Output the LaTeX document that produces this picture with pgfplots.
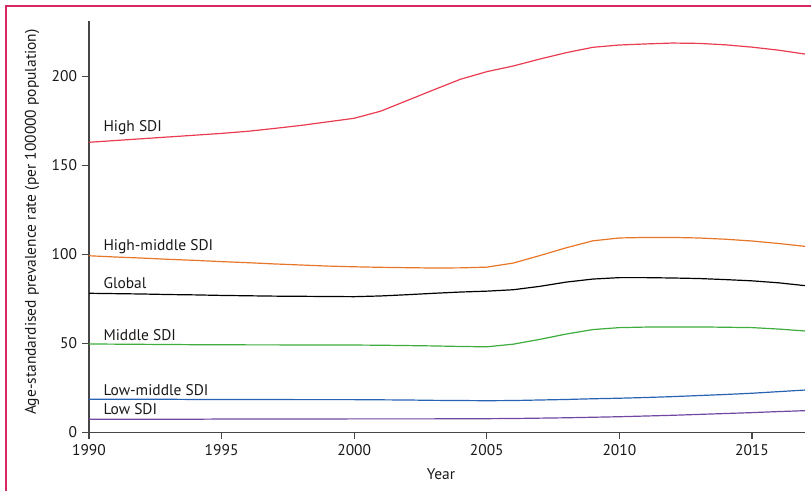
\documentclass[border=0pt]{standalone}
\usepackage{pgfplots}
\pgfplotsset{compat=1.18}
\usepackage{fontspec}
\setmainfont{PT Sans}
\definecolor{frame}{RGB}{214,40,98}
\definecolor{cHigh}{RGB}{233,60,80}
\definecolor{cHM}{RGB}{232,118,40}
\definecolor{cMid}{RGB}{62,172,62}
\definecolor{cLM}{RGB}{40,98,178}
\definecolor{cLow}{RGB}{112,72,162}
\definecolor{axgray}{RGB}{70,70,70}
\begin{document}
\begin{tikzpicture}
\useasboundingbox (-66.75pt,-44.1pt) rectangle (541.5pt,324.15pt);
\draw[frame, line width=1pt] (-62.25pt,-50pt) -- (-62.25pt,319.65pt) -- (545pt,319.65pt);
\begin{axis}[
  at={(0pt,0pt)}, anchor=origin,
  scale only axis, width=537pt, height=308.4pt,
  xmin=1990, xmax=2017, ymin=0, ymax=231.2,
  axis x line*=bottom, axis y line*=left,
  axis line style={axgray, line width=0.9pt, -},
  xtick={1990,1995,2000,2005,2010,2015},
  ytick={0,50,100,150,200},
  tick align=outside, major tick length=5pt,
  tick style={axgray, line width=0.9pt},
  /pgf/number format/assume math mode=true,
  /pgf/number format/1000 sep={},
  ticklabel style={font=\fontsize{11.6}{13}\selectfont, text=black!90},
  xticklabel style={yshift=-0.5pt},
  yticklabel style={xshift=-0.5pt},
  clip=false,
  every axis plot/.append style={line width=0.9pt},
]
\addplot[cHigh] coordinates {(1990,163.0)(1991,164.0)(1992,165.0)(1993,166.0)(1994,167.0)(1995,168.0)(1996,169.2)(1997,170.8)(1998,172.5)(1999,174.5)(2000,176.5)(2001,180.5)(2002,186.5)(2003,192.5)(2004,198.4)(2005,202.7)(2006,205.9)(2007,209.8)(2008,213.4)(2009,216.4)(2010,217.7)(2011,218.3)(2012,218.8)(2013,218.6)(2014,217.8)(2015,216.5)(2016,214.8)(2017,212.6)};
\addplot[cHM] coordinates {(1990,99.2)(1991,98.5)(1992,97.9)(1993,97.2)(1994,96.6)(1995,95.9)(1996,95.3)(1997,94.6)(1998,94.0)(1999,93.4)(2000,93.0)(2001,92.7)(2002,92.5)(2003,92.3)(2004,92.4)(2005,92.8)(2006,95.1)(2007,99.3)(2008,103.7)(2009,107.6)(2010,109.2)(2011,109.5)(2012,109.5)(2013,109.2)(2014,108.5)(2015,107.5)(2016,106.1)(2017,104.5)};
\addplot[black] coordinates {(1990,78.1)(1991,77.9)(1992,77.7)(1993,77.4)(1994,77.2)(1995,76.9)(1996,76.7)(1997,76.5)(1998,76.4)(1999,76.3)(2000,76.2)(2001,76.6)(2002,77.3)(2003,78.1)(2004,78.8)(2005,79.3)(2006,80.1)(2007,82.0)(2008,84.4)(2009,86.1)(2010,86.9)(2011,86.9)(2012,86.7)(2013,86.4)(2014,85.8)(2015,85.1)(2016,84.0)(2017,82.4)};
\addplot[cMid] coordinates {(1990,49.6)(1991,49.5)(1992,49.4)(1993,49.3)(1994,49.2)(1995,49.2)(1996,49.1)(1997,49.1)(1998,49.0)(1999,49.0)(2000,49.0)(2001,48.9)(2002,48.7)(2003,48.5)(2004,48.2)(2005,48.0)(2006,49.5)(2007,52.2)(2008,55.2)(2009,57.7)(2010,58.8)(2011,59.1)(2012,59.2)(2013,59.2)(2014,59.0)(2015,58.8)(2016,58.0)(2017,56.9)};
\addplot[cLM] coordinates {(1990,18.5)(1991,18.5)(1992,18.5)(1993,18.5)(1994,18.4)(1995,18.4)(1996,18.4)(1997,18.4)(1998,18.3)(1999,18.3)(2000,18.3)(2001,18.2)(2002,18.1)(2003,17.9)(2004,17.8)(2005,17.7)(2006,17.8)(2007,18.1)(2008,18.4)(2009,18.8)(2010,19.1)(2011,19.5)(2012,20.0)(2013,20.6)(2014,21.2)(2015,21.9)(2016,22.8)(2017,23.7)};
\addplot[cLow] coordinates {(1990,7.3)(1991,7.3)(1992,7.3)(1993,7.3)(1994,7.3)(1995,7.4)(1996,7.4)(1997,7.4)(1998,7.4)(1999,7.4)(2000,7.5)(2001,7.5)(2002,7.5)(2003,7.5)(2004,7.6)(2005,7.6)(2006,7.7)(2007,7.9)(2008,8.1)(2009,8.4)(2010,8.7)(2011,9.1)(2012,9.5)(2013,10.0)(2014,10.5)(2015,11.0)(2016,11.6)(2017,12.1)};
\begin{scope}[every node/.style={anchor=base west, inner sep=0pt, font=\fontsize{11.6}{13}\selectfont, text=black!90}]
\node at (axis cs:1990.54,169.0) {High SDI};
\node at (axis cs:1990.54,102.0) {High-middle SDI};
\node at (axis cs:1990.54,80.9) {Global};
\node at (axis cs:1990.54,51.8) {Middle SDI};
\node at (axis cs:1990.54,20.9) {Low-middle SDI};
\node at (axis cs:1990.54,9.7) {Low SDI};
\end{scope}
\end{axis}
\node[rotate=90, font=\fontsize{11.6}{13}\selectfont, text=black!90] at (-42.75pt,157.5pt) {Age-standardised prevalence rate (per 100000 population)};
\node[font=\fontsize{11.6}{13}\selectfont, text=black!90] at (264pt,-31.35pt) {Year};
\end{tikzpicture}
\end{document}
